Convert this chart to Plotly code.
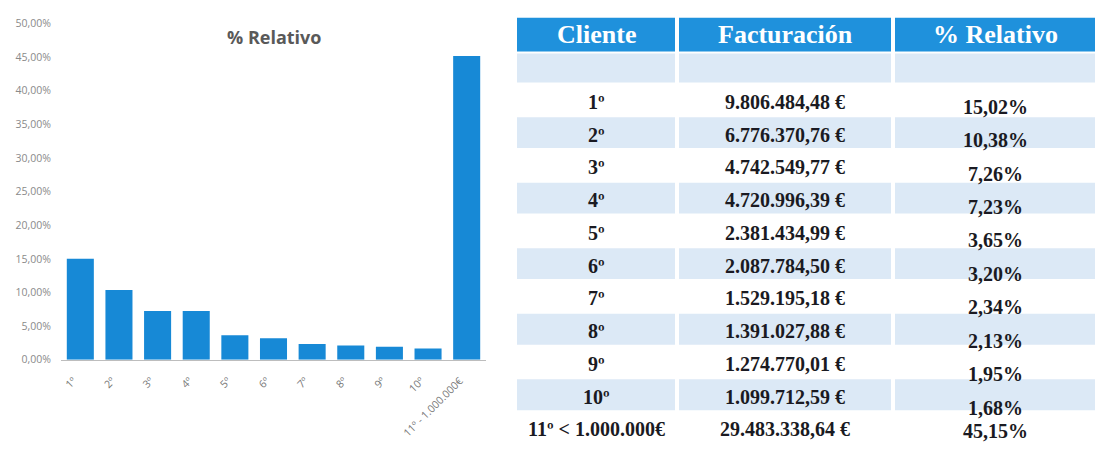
import plotly.graph_objects as go

# Client ranking data
clientes = ["1º", "2º", "3º", "4º", "5º", "6º", "7º", "8º", "9º", "10º", "11º < 1.000.000€"]
etiquetas_eje = ["1º", "2º", "3º", "4º", "5º", "6º", "7º", "8º", "9º", "10º", "11º - 1.000.000€"]
facturacion = ["9.806.484,48 €", "6.776.370,76 €", "4.742.549,77 €", "4.720.996,39 €",
               "2.381.434,99 €", "2.087.784,50 €", "1.529.195,18 €", "1.391.027,88 €",
               "1.274.770,01 €", "1.099.712,59 €", "29.483.338,64 €"]
relativo = [15.02, 10.38, 7.26, 7.23, 3.65, 3.20, 2.34, 2.13, 1.95, 1.68, 45.15]
encabezados = ["Cliente", "Facturación", "% Relativo"]

W, H = 1101, 453
BAR_BLUE = "#1789d6"
HEAD_BLUE = "#1f91dc"
LIGHT = "#dce9f6"
TEXT = "#1a1a22"

fig = go.Figure()

fig.add_trace(go.Bar(
    x=etiquetas_eje, y=relativo, marker_color=BAR_BLUE, marker_line_width=0,
    showlegend=False,
))

# ---- table drawn with shapes and annotations (pixel layout -> paper coords)
col_edges = [515, 677, 893, 1097]
head_top, head_bot = 10, 47
empty_h = 32
row_h = 33.8
gap = 2  # white gutter between cells


def px(x):
    return x / W


def py(y):
    return 1 - y / H


shapes = []
annotations = []


def cell(c, top, bot, fill):
    shapes.append(dict(
        type="rect", xref="paper", yref="paper", layer="below",
        x0=px(col_edges[c] + gap), x1=px(col_edges[c + 1] - gap),
        y0=py(bot - gap / 2), y1=py(top + gap / 2),
        fillcolor=fill, line_width=0,
    ))


def label(c, y, text, size, color):
    annotations.append(dict(
        text="<b>%s</b>" % text, xref="paper", yref="paper",
        x=px((col_edges[c] + col_edges[c + 1]) / 2), y=py(y),
        xanchor="center", yanchor="middle", showarrow=False,
        font=dict(family="Liberation Serif", size=size, color=color),
    ))


for c, name in enumerate(encabezados):
    cell(c, head_top, head_bot, HEAD_BLUE)
    label(c, (head_top + head_bot) / 2, name, 26, "white")

# empty first body row
first_top = head_bot + empty_h
for c in range(3):
    cell(c, head_bot, first_top, LIGHT)

pcts = [("%.2f%%" % v).replace(".", ",") for v in relativo]
for i, (cl, fa, pc) in enumerate(zip(clientes, facturacion, pcts)):
    top = first_top + i * row_h
    bot = min(top + row_h, H)
    mid = top + row_h / 2
    if i % 2 == 1:
        for c in range(3):
            cell(c, top, bot, LIGHT)
    label(0, mid + 2, cl, 20, TEXT)
    label(1, mid + 2, fa, 20, TEXT)
    # percentages sit slightly low in their rows; keep the last one inside the page
    label(2, min(mid + 7 + i * 0.7, H - 15), pc, 20, TEXT)

annotations.append(dict(
    text="<b>% Relativo</b>", x=(61 + 486) / 2 / W, y=1 - 31 / H,
    xref="paper", yref="paper", xanchor="center", yanchor="middle",
    showarrow=False,
    font=dict(family="Open Sans", size=18, color="#595959"),
))

fig.update_layout(
    width=W, height=H,
    margin=dict(l=0, r=0, t=0, b=0),
    paper_bgcolor="white", plot_bgcolor="white",
    separators=",.",
    bargap=0.3,
    xaxis=dict(
        domain=[61 / W, 486 / W], tickangle=-45,
        tickfont=dict(family="Open Sans", size=10.5, color="#777"),
        showline=True, linecolor="#bdbdbd", linewidth=1, ticks="",
        showgrid=False, ticklabelstandoff=10, ticklabelshift=-7,
    ),
    yaxis=dict(
        domain=[1 - 364 / H, 1 - 17 / H], range=[0, 50], dtick=5,
        tickformat=".2f", ticksuffix="%",
        tickfont=dict(family="Open Sans", size=10.5, color="#8a8a8a"),
        showgrid=False, zeroline=False, showline=False,
        ticklabelstandoff=9,
    ),
    shapes=shapes,
    annotations=annotations,
)

fig.write_html("out.html")
